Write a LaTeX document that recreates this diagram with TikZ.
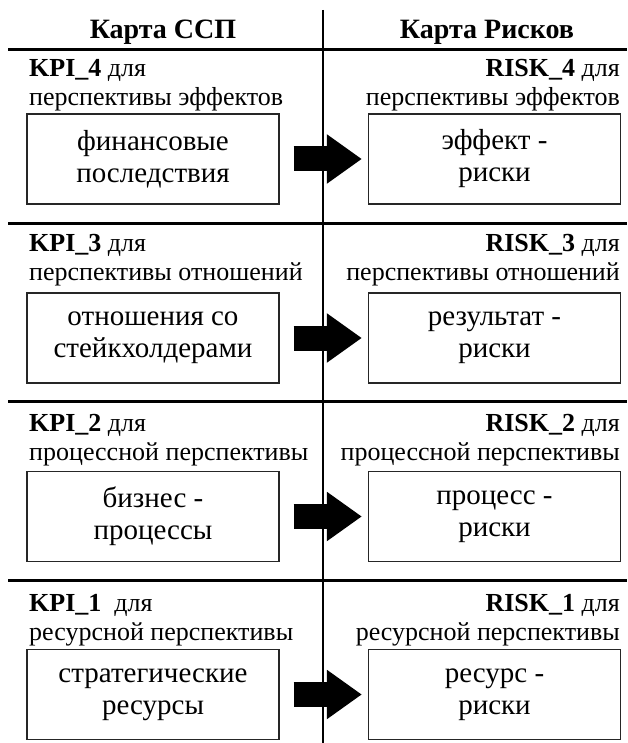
\documentclass[tikz,border=0pt]{standalone}
\usepackage{fontspec}
\setmainfont{Liberation Serif}
\usepackage{tikz}
\usetikzlibrary{arrows.meta,positioning}

\begin{document}
\begin{tikzpicture}[
    x=1pt, y=-1pt,
    title/.style={font=\fontsize{28}{30}\selectfont\bfseries, anchor=base, inner sep=0pt},
    kpilabel/.style={align=left, anchor=base west, inner sep=0pt, font=\fontsize{26}{29}\selectfont},
    risklabel/.style={align=right, anchor=base east, inner sep=0pt, font=\fontsize{26}{29}\selectfont},
    box/.style={rectangle, draw=black!85, line width=1.3pt, minimum width=252pt, minimum height=90pt, align=center, font=\fontsize{29}{32}\selectfont},
    bigarrow/.style={line width=25pt, -{Triangle[length=35pt, width=47pt]}},
    sep/.style={line width=3pt}
]
    \useasboundingbox (0,0) rectangle (627,743);

    % Headers and grid
    \node[title] (bsc) at (163,39) {Карта ССП};
    \node[title] (riskmap) at (487,39) {Карта Рисков};
    \draw[line width=2.5pt] (323,10) -- (323,743);
    \draw[sep] (8,50) -- (627,50);
    \draw[sep] (8,223) -- (627,223);
    \draw[sep] (8,401) -- (627,401);
    \draw[sep] (8,580) -- (627,580);

    % Effect perspective
    \node[kpilabel] (kpi4lbl) at (29,106) {\textbf{KPI\_4} для\\перспективы эффектов};
    \node[risklabel] (risk4lbl) at (620,106) {\textbf{RISK\_4} для\\перспективы эффектов};
    \node[box] (kpi4) at (153,159) {финансовые\\последствия};
    \node[box] (risk4) at (494.5,159) {эффект -\\риски};
    \draw[bigarrow] ([xshift=14pt]kpi4.east) -- ([xshift=-6pt]risk4.west);

    % Relations perspective
    \node[kpilabel] (kpi3lbl) at (29,280) {\textbf{KPI\_3} для\\перспективы отношений};
    \node[risklabel] (risk3lbl) at (620,280) {\textbf{RISK\_3} для\\перспективы отношений};
    \node[box] (kpi3) at (153,338) {отношения со\\стейкхолдерами};
    \node[box] (risk3) at (494.5,338) {результат -\\риски};
    \draw[bigarrow] ([xshift=14pt]kpi3.east) -- ([xshift=-6pt]risk3.west);

    % Process perspective
    \node[kpilabel] (kpi2lbl) at (29,460) {\textbf{KPI\_2} для\\процессной перспективы};
    \node[risklabel] (risk2lbl) at (620,460) {\textbf{RISK\_2} для\\процессной перспективы};
    \node[box] (kpi2) at (153,516.5) {бизнес -\\процессы};
    \node[box] (risk2) at (494.5,516.5) {процесс -\\риски};
    \draw[bigarrow] ([xshift=14pt]kpi2.east) -- ([xshift=-6pt]risk2.west);

    % Resource perspective
    \node[kpilabel] (kpi1lbl) at (29,640) {\textbf{KPI\_1}\ \ для\\ресурсной перспективы};
    \node[risklabel] (risk1lbl) at (620,640) {\textbf{RISK\_1} для\\ресурсной перспективы};
    \node[box] (kpi1) at (153,694.5) {стратегические\\ресурсы};
    \node[box] (risk1) at (494.5,694.5) {ресурс -\\риски};
    \draw[bigarrow] ([xshift=14pt]kpi1.east) -- ([xshift=-6pt]risk1.west);
\end{tikzpicture}
\end{document}
